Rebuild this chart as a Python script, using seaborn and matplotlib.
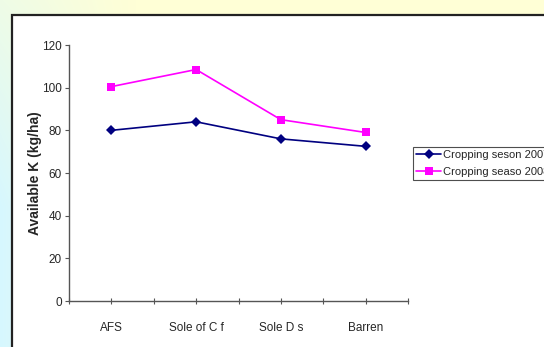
import numpy as np
import pandas as pd
import matplotlib
matplotlib.use("Agg")
import matplotlib.pyplot as plt
from matplotlib.patches import Rectangle
import seaborn as sns

# Available potassium by land-use system, two cropping seasons
categories = ["AFS", "Sole of C f", "Sole D s", "Barren"]
season_2007 = [80, 84, 76, 72.5]
season_2008 = [100.5, 108.5, 85, 79]
series_names = ["Cropping seson 2007", "Cropping seaso 2008"]
y_ticks = [0, 20, 40, 60, 80, 100, 120]

df = pd.DataFrame({
    "x": list(range(len(categories))) * 2,
    "value": season_2007 + season_2008,
    "series": [series_names[0]] * len(categories) + [series_names[1]] * len(categories),
})

sns.set_theme(style="white")
plt.rcParams["font.family"] = ["Liberation Sans", "DejaVu Sans"]

W, H = 544, 347
fig = plt.figure(figsize=(W / 100, H / 100), dpi=100)

# slide background: pale yellow band on top, pale cyan strip on the left
bg = fig.add_axes([0, 0, 1, 1], zorder=-10)
xx = np.linspace(0, 1, W)[None, :]
yy = np.linspace(0, 1, H)[:, None]
yellow = np.array([1.0, 1.0, 0.84])
cyan = np.array([0.84, 0.97, 1.0])
t = np.clip(1 - xx / 0.25, 0, 1) * np.clip(0.4 + yy, 0, 1)
img = yellow[None, None, :] * (1 - t[..., None]) + cyan[None, None, :] * t[..., None]
bg.imshow(img, aspect="auto", extent=[0, 1, 0, 1], origin="upper")
bg.set_axis_off()

# white chart panel with a dark frame running off the right and bottom edges
panel = Rectangle((12 / W, -0.1), 1.2, 1 - 15 / H + 0.1, transform=fig.transFigure,
                  facecolor="white", edgecolor="#222222", linewidth=1.6, zorder=-5)
fig.patches.append(panel)

ax = fig.add_axes([69 / W, 1 - 301 / H, (408 - 69) / W, (301 - 45) / H])
ax.set_facecolor("none")

palette = {series_names[0]: "#000080", series_names[1]: "#FF00FF"}
markers = {series_names[0]: "D", series_names[1]: "s"}
sns.lineplot(data=df, x="x", y="value", hue="series", style="series",
             palette=palette, markers=markers, dashes=False,
             markersize=5.5, markeredgewidth=0, linewidth=1.2, ax=ax, legend=True)

ax.set_xlim(-0.5, len(categories) - 0.5)
ax.set_ylim(0, 120)
ax.set_yticks(y_ticks)
ax.set_xticks(range(len(categories)))
ax.set_xticklabels(categories)
ax.set_xticks(np.arange(-0.5, len(categories), 1.0), minor=True)
ax.set_xlabel("")
ax.set_ylabel("Available K (kg/ha)", fontsize=10, fontweight="bold", labelpad=0)

for side in ["top", "right"]:
    ax.spines[side].set_visible(False)
for side in ["left", "bottom"]:
    ax.spines[side].set_color("#555555")
    ax.spines[side].set_linewidth(1.0)

ax.tick_params(axis="y", which="major", direction="out", length=3, width=0.8,
               color="#555555", labelsize=8.5, pad=2, left=True)
ax.tick_params(axis="x", which="both", direction="inout", length=4, width=0.8,
               color="#555555", bottom=True)
ax.tick_params(axis="x", which="major", labelsize=8.5, pad=13)

handles, labels = ax.get_legend_handles_labels()
ax.get_legend().remove()
leg = fig.legend(handles, labels, loc="upper left",
                 bbox_to_anchor=(413 / W, 1 - 147 / H), fontsize=8,
                 frameon=True, fancybox=False, borderpad=0.3, labelspacing=0.6,
                 handlelength=2.2, handletextpad=0.2, borderaxespad=0)
leg.get_frame().set_edgecolor("#222222")
leg.get_frame().set_linewidth(0.8)

fig.savefig("out.png", dpi=100)
